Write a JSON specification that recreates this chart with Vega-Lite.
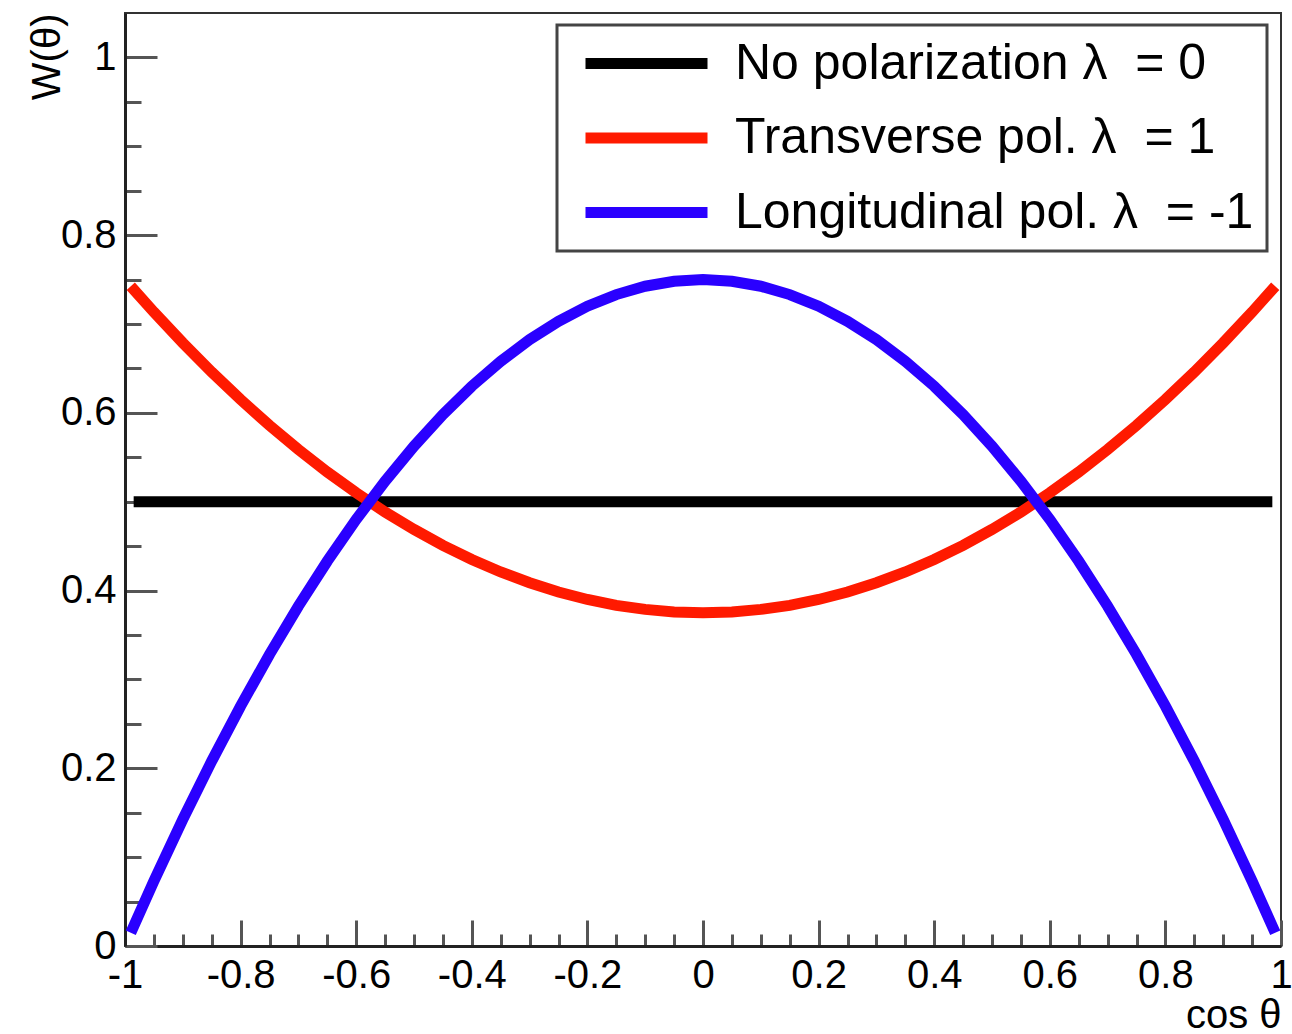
{
  "$schema": "https://vega.github.io/schema/vega-lite/v6.json",
  "width": 1156,
  "height": 933,
  "autosize": "none",
  "padding": {"left": 125, "top": 13, "right": 11, "bottom": 88},
  "background": "white",
  "config": {
    "view": {"stroke": "#333333", "strokeWidth": 2},
    "axis": {"labelFont": "Liberation Sans", "titleFont": "Liberation Sans", "labelFontSize": 40, "titleFontSize": 40, "titleFontWeight": "normal", "labelColor": "black", "titleColor": "black", "grid": false, "labelFlush": false, "labelOverlap": false}
  },
  "data": {"values": [
    {"pol": "none", "cos": -0.985, "W": 0.5},
    {"pol": "none", "cos": 0.985, "W": 0.5},
    {"pol": "trans", "cos": -0.99, "W": 0.7425},
    {"pol": "trans", "cos": -0.95, "W": 0.7134},
    {"pol": "trans", "cos": -0.9, "W": 0.6788},
    {"pol": "trans", "cos": -0.85, "W": 0.6459},
    {"pol": "trans", "cos": -0.8, "W": 0.615},
    {"pol": "trans", "cos": -0.75, "W": 0.5859},
    {"pol": "trans", "cos": -0.7, "W": 0.5588},
    {"pol": "trans", "cos": -0.65, "W": 0.5334},
    {"pol": "trans", "cos": -0.6, "W": 0.51},
    {"pol": "trans", "cos": -0.55, "W": 0.4884},
    {"pol": "trans", "cos": -0.5, "W": 0.4688},
    {"pol": "trans", "cos": -0.45, "W": 0.4509},
    {"pol": "trans", "cos": -0.4, "W": 0.435},
    {"pol": "trans", "cos": -0.35, "W": 0.4209},
    {"pol": "trans", "cos": -0.3, "W": 0.4088},
    {"pol": "trans", "cos": -0.25, "W": 0.3984},
    {"pol": "trans", "cos": -0.2, "W": 0.39},
    {"pol": "trans", "cos": -0.15, "W": 0.3834},
    {"pol": "trans", "cos": -0.1, "W": 0.3788},
    {"pol": "trans", "cos": -0.05, "W": 0.3759},
    {"pol": "trans", "cos": 0, "W": 0.375},
    {"pol": "trans", "cos": 0.05, "W": 0.3759},
    {"pol": "trans", "cos": 0.1, "W": 0.3788},
    {"pol": "trans", "cos": 0.15, "W": 0.3834},
    {"pol": "trans", "cos": 0.2, "W": 0.39},
    {"pol": "trans", "cos": 0.25, "W": 0.3984},
    {"pol": "trans", "cos": 0.3, "W": 0.4088},
    {"pol": "trans", "cos": 0.35, "W": 0.4209},
    {"pol": "trans", "cos": 0.4, "W": 0.435},
    {"pol": "trans", "cos": 0.45, "W": 0.4509},
    {"pol": "trans", "cos": 0.5, "W": 0.4688},
    {"pol": "trans", "cos": 0.55, "W": 0.4884},
    {"pol": "trans", "cos": 0.6, "W": 0.51},
    {"pol": "trans", "cos": 0.65, "W": 0.5334},
    {"pol": "trans", "cos": 0.7, "W": 0.5588},
    {"pol": "trans", "cos": 0.75, "W": 0.5859},
    {"pol": "trans", "cos": 0.8, "W": 0.615},
    {"pol": "trans", "cos": 0.85, "W": 0.6459},
    {"pol": "trans", "cos": 0.9, "W": 0.6788},
    {"pol": "trans", "cos": 0.95, "W": 0.7134},
    {"pol": "trans", "cos": 0.99, "W": 0.7425},
    {"pol": "long", "cos": -0.99, "W": 0.0149},
    {"pol": "long", "cos": -0.95, "W": 0.0731},
    {"pol": "long", "cos": -0.9, "W": 0.1425},
    {"pol": "long", "cos": -0.85, "W": 0.2081},
    {"pol": "long", "cos": -0.8, "W": 0.27},
    {"pol": "long", "cos": -0.75, "W": 0.3281},
    {"pol": "long", "cos": -0.7, "W": 0.3825},
    {"pol": "long", "cos": -0.65, "W": 0.4331},
    {"pol": "long", "cos": -0.6, "W": 0.48},
    {"pol": "long", "cos": -0.55, "W": 0.5231},
    {"pol": "long", "cos": -0.5, "W": 0.5625},
    {"pol": "long", "cos": -0.45, "W": 0.5981},
    {"pol": "long", "cos": -0.4, "W": 0.63},
    {"pol": "long", "cos": -0.35, "W": 0.6581},
    {"pol": "long", "cos": -0.3, "W": 0.6825},
    {"pol": "long", "cos": -0.25, "W": 0.7031},
    {"pol": "long", "cos": -0.2, "W": 0.72},
    {"pol": "long", "cos": -0.15, "W": 0.7331},
    {"pol": "long", "cos": -0.1, "W": 0.7425},
    {"pol": "long", "cos": -0.05, "W": 0.7481},
    {"pol": "long", "cos": 0, "W": 0.75},
    {"pol": "long", "cos": 0.05, "W": 0.7481},
    {"pol": "long", "cos": 0.1, "W": 0.7425},
    {"pol": "long", "cos": 0.15, "W": 0.7331},
    {"pol": "long", "cos": 0.2, "W": 0.72},
    {"pol": "long", "cos": 0.25, "W": 0.7031},
    {"pol": "long", "cos": 0.3, "W": 0.6825},
    {"pol": "long", "cos": 0.35, "W": 0.6581},
    {"pol": "long", "cos": 0.4, "W": 0.63},
    {"pol": "long", "cos": 0.45, "W": 0.5981},
    {"pol": "long", "cos": 0.5, "W": 0.5625},
    {"pol": "long", "cos": 0.55, "W": 0.5231},
    {"pol": "long", "cos": 0.6, "W": 0.48},
    {"pol": "long", "cos": 0.65, "W": 0.4331},
    {"pol": "long", "cos": 0.7, "W": 0.3825},
    {"pol": "long", "cos": 0.75, "W": 0.3281},
    {"pol": "long", "cos": 0.8, "W": 0.27},
    {"pol": "long", "cos": 0.85, "W": 0.2081},
    {"pol": "long", "cos": 0.9, "W": 0.1425},
    {"pol": "long", "cos": 0.95, "W": 0.0731},
    {"pol": "long", "cos": 0.99, "W": 0.0149}
  ]},
  "resolve": {"axis": {"x": "independent", "y": "independent"}},
  "layer": [
    {
      "mark": {"type": "point", "opacity": 0},
      "encoding": {
        "x": {"field": "cos", "type": "quantitative", "scale": {"domain": [-1, 1], "nice": false},
          "axis": {"orient": "bottom", "values": [-0.95, -0.9, -0.85, -0.75, -0.7, -0.65, -0.55, -0.5, -0.45, -0.35, -0.3, -0.25, -0.15, -0.1, -0.05, 0.05, 0.1, 0.15, 0.25, 0.3, 0.35, 0.45, 0.5, 0.55, 0.65, 0.7, 0.75, 0.85, 0.9, 0.95], "labels": false, "domain": false, "title": null, "tickSize": -12, "tickWidth": 3, "tickColor": "#555555"}},
        "y": {"field": "W", "type": "quantitative", "scale": {"domain": [0, 1.05], "nice": false},
          "axis": {"orient": "left", "values": [0.05, 0.1, 0.15, 0.25, 0.3, 0.35, 0.45, 0.5, 0.55, 0.65, 0.7, 0.75, 0.85, 0.9, 0.95], "labels": false, "domain": false, "title": null, "tickSize": -16, "tickWidth": 3, "tickColor": "#555555"}}
      }
    },
    {
      "mark": {"type": "line", "strokeWidth": 11, "strokeCap": "butt", "interpolate": "linear"},
      "encoding": {
        "x": {"field": "cos", "type": "quantitative",
          "axis": {"orient": "bottom", "values": [-1, -0.8, -0.6, -0.4, -0.2, 0, 0.2, 0.4, 0.6, 0.8, 1], "labelExpr": "'' + datum.value", "tickSize": -26, "tickWidth": 3, "tickColor": "#555555", "labelPadding": 35, "domainWidth": 3, "domainColor": "#222222", "title": "cos θ", "titleAnchor": "end", "titlePadding": 0}},
        "y": {"field": "W", "type": "quantitative",
          "axis": {"orient": "left", "values": [0, 0.2, 0.4, 0.6, 0.8, 1], "labelExpr": "'' + datum.value", "tickSize": -32, "tickWidth": 3, "tickColor": "#555555", "labelPadding": 41, "domainWidth": 3, "domainColor": "#222222", "title": "W(θ)", "titleAnchor": "end", "titlePadding": -7}},
        "color": {"field": "pol", "type": "nominal",
          "scale": {"domain": ["none", "trans", "long"], "range": ["#000000", "#ff1a00", "#2a00ff"]},
          "legend": {"orient": "none", "legendX": 432, "legendY": 12, "title": null,
            "labelExpr": "datum.label == 'none' ? 'No polarization λ\u00a0 = 0' : datum.label == 'trans' ? 'Transverse pol. λ\u00a0 = 1' : 'Longitudinal pol. λ\u00a0 = -1'",
            "symbolType": "M-3.05,0H3.05", "symbolSize": 1600, "symbolStrokeWidth": 11, "symbolOffset": 51,
            "labelOffset": 63, "labelFontSize": 50, "labelFont": "Liberation Sans", "labelColor": "black", "labelLimit": 900,
            "strokeColor": "#444444", "fillColor": "white", "padding": 13, "rowPadding": 23.5,
            "encode": {"legend": {"update": {"strokeWidth": {"value": 3}}}}}}
      }
    }
  ]
}
